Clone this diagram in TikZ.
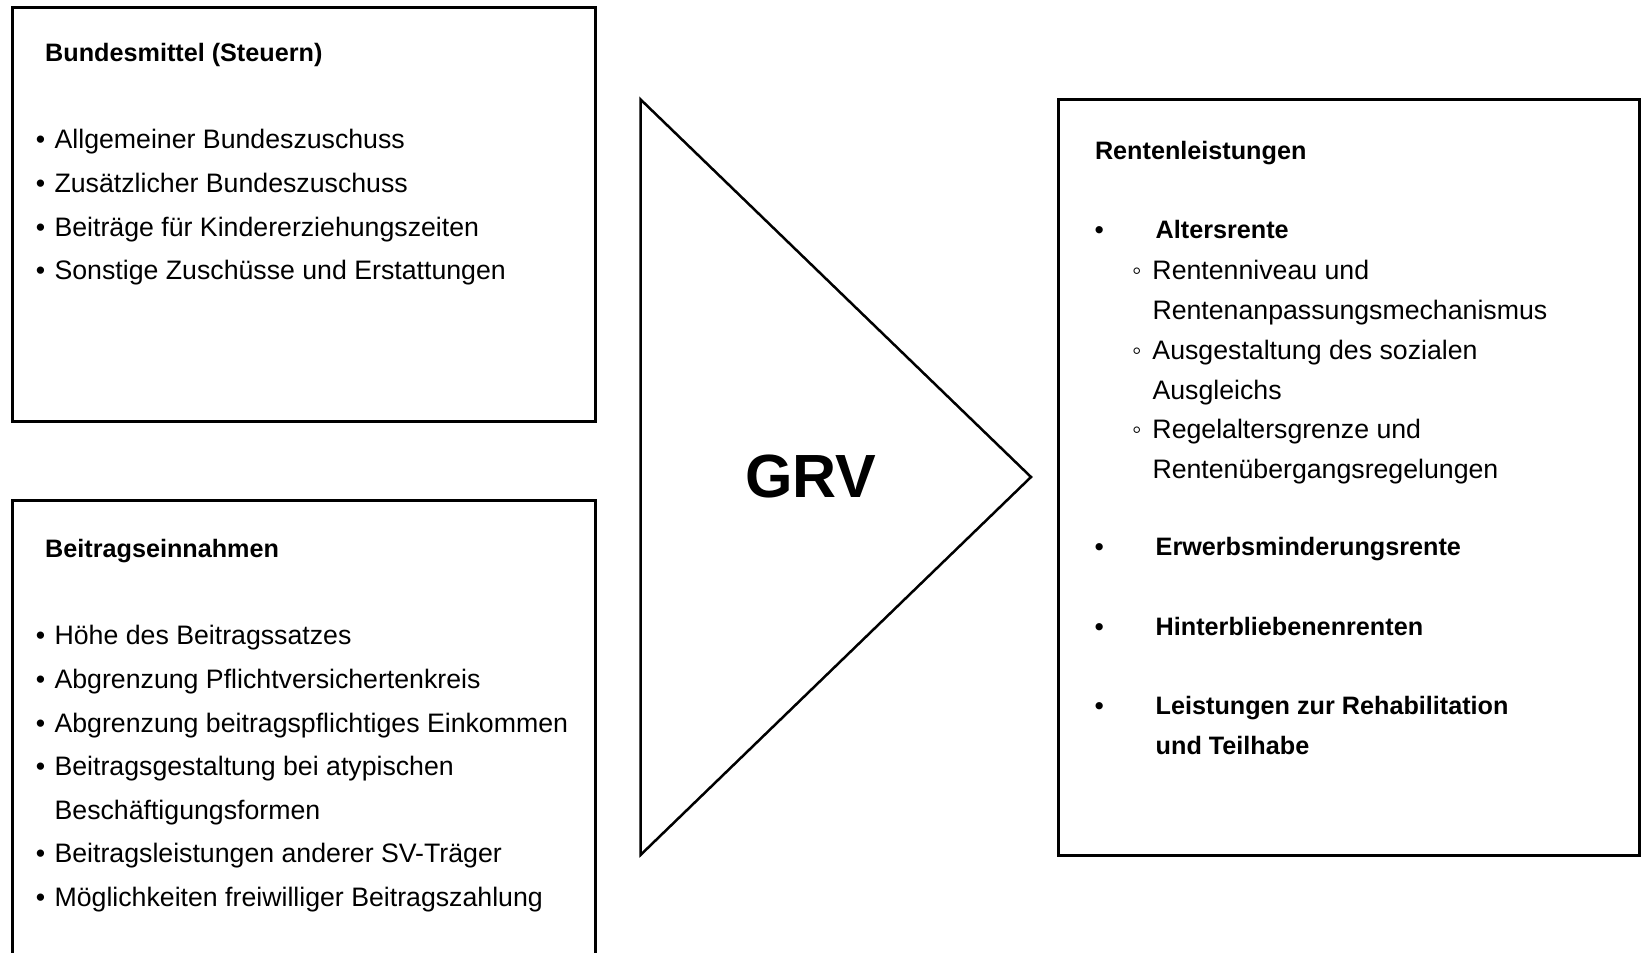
\documentclass[tikz,border=0pt]{standalone}
\usepackage{fontspec}
\setmainfont{Liberation Sans}

\newcommand{\itemdot}[1]{\llap{\makebox[0pt]{•}\hspace{#1}}}
\newcommand{\subdot}[1]{\llap{\makebox[0pt]{◦}\hspace{#1}}}

\tikzset{
  kasten/.style={draw, line width=3pt, inner sep=0pt, outer sep=0pt, anchor=north west},
  kopf/.style={anchor=base west, inner sep=0pt, font=\fontsize{25.2}{30}\selectfont\bfseries},
  zeile/.style={anchor=base west, inner sep=0pt, font=\fontsize{26.7}{32}\selectfont},
}

\begin{document}
\begin{tikzpicture}[x=1pt,y=-1pt]
    \useasboundingbox (0,0) rectangle (1641,953);

    % 绘制三个框
    \node[kasten, minimum width=583pt, minimum height=414.5pt] (bund) at (12.5,7.3) {};
    \node[kasten, minimum width=583pt, minimum height=470pt] (beitrag) at (12.5,500.3) {};
    \node[kasten, minimum width=581.5pt, minimum height=755.6pt] (rente) at (1058,99.4) {};

    % 绘制三角形
    \coordinate (tri-oben) at (640.5,99.4);
    \coordinate (tri-spitze) at (1031,477);
    \coordinate (tri-unten) at (640.5,855);
    \draw[line width=2.5pt, line join=miter] (tri-oben) -- (tri-spitze) -- (tri-unten) -- cycle;
    \node[inner sep=0pt, font=\fontsize{61}{70}\selectfont\bfseries] (grv) at (811,476.5) {GRV};

    % 标注 Bundesmittel
    \node[kopf] (bund-kopf) at (45,61.4) {Bundesmittel (Steuern)};
    \foreach \t [count=\i from 0] in {Allgemeiner Bundeszuschuss, Zusätzlicher Bundeszuschuss,
        Beiträge für Kindererziehungszeiten, Sonstige Zuschüsse und Erstattungen}
      \node[zeile] (bund-\i) at (54.4,148.8+43.6*\i) {\itemdot{14pt}\t};

    % 标注 Beitragseinnahmen
    \node[kopf] (beitrag-kopf) at (45,557.5) {Beitragseinnahmen};
    \foreach \t/\b [count=\i from 0] in {Höhe des Beitragssatzes/1, Abgrenzung Pflichtversichertenkreis/1,
        Abgrenzung beitragspflichtiges Einkommen/1, Beitragsgestaltung bei atypischen/1,
        Beschäftigungsformen/0, Beitragsleistungen anderer SV-Träger/1,
        Möglichkeiten freiwilliger Beitragszahlung/1}
      \node[zeile] (beitrag-\i) at (54.4,644.9+43.6*\i) {\ifnum\b=1 \itemdot{14pt}\fi\t};

    % 标注 Rentenleistungen
    \node[kopf] (rente-kopf) at (1094.8,159.8) {Rentenleistungen};
    \node[kopf] (alter) at (1155.5,238.3) {\itemdot{56.5pt}Altersrente};
    \foreach \t/\b [count=\i from 0] in {Rentenniveau und/1, Rentenanpassungsmechanismus/0,
        Ausgestaltung des sozialen/1, Ausgleichs/0,
        Regelaltersgrenze und/1, Rentenübergangsregelungen/0}
      \node[zeile] (alter-\i) at (1152.3,279.6+39.8*\i) {\ifnum\b=1 \subdot{15.7pt}\fi\t};
    \node[kopf] (erwerb) at (1155.5,555.4) {\itemdot{56.5pt}Erwerbsminderungsrente};
    \node[kopf] (hinterbl) at (1155.5,635.0) {\itemdot{56.5pt}Hinterbliebenenrenten};
    \node[kopf] (reha) at (1155.5,714.5) {\itemdot{56.5pt}Leistungen zur Rehabilitation};
    \node[kopf] (reha-2) at (1155.5,754.3) {und Teilhabe};

\end{tikzpicture}
\end{document}
